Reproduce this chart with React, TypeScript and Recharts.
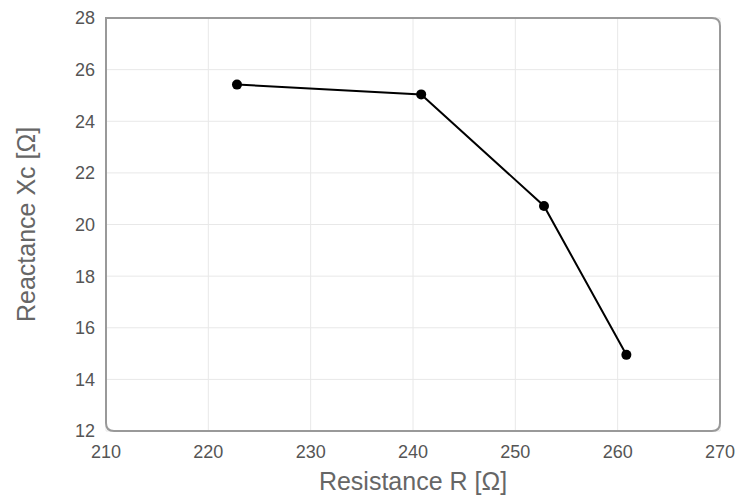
import {
  ScatterChart,
  Scatter,
  XAxis,
  YAxis,
  CartesianGrid,
  ReferenceArea,
} from "recharts";

const resistance = [222.8, 240.8, 252.8, 260.85];
const reactance = [25.42, 25.04, 20.72, 14.95];
const xTicks = [210, 220, 230, 240, 250, 260, 270];
const yTicks = [12, 14, 16, 18, 20, 22, 24, 26, 28];

const data = resistance.map((r, i) => ({ r, xc: reactance[i] }));

const FONT = "'Liberation Sans', Arial, sans-serif";

// frame: square top-left corner, the other three rounded
function Frame(props: any) {
  const { x, y, width, height } = props;
  const r = 8;
  const d = `M${x},${y} L${x + width - r},${y} Q${x + width},${y} ${x + width},${y + r} L${x + width},${y + height - r} Q${x + width},${y + height} ${x + width - r},${y + height} L${x + r},${y + height} Q${x},${y + height} ${x},${y + height - r} Z`;
  return <path d={d} fill="none" stroke="#999" strokeWidth={2} />;
}

export default function App() {
  return (
    <div style={{ position: "absolute", left: 0, top: 0, background: "#fff" }}>
      <ScatterChart width={736} height={498} margin={{ top: 18, right: 16, left: 0, bottom: 0 }}>
        <CartesianGrid stroke="#e8e8e8" strokeWidth={1} />
        <XAxis
          type="number"
          dataKey="r"
          domain={[210, 270]}
          ticks={xTicks}
          axisLine={false}
          tickLine={false}
          tickSize={0}
          tickMargin={14}
          height={67}
          tick={{ fill: "#555", fontSize: 18, fontFamily: FONT }}
          label={{
            value: "Resistance R [Ω]",
            position: "insideBottom",
            offset: 8,
            fill: "#666",
            fontSize: 25,
            fontFamily: FONT,
          }}
        />
        <YAxis
          type="number"
          dataKey="xc"
          domain={[12, 28]}
          ticks={yTicks}
          axisLine={false}
          tickLine={false}
          tickSize={0}
          tickMargin={11}
          width={106}
          tick={{ fill: "#555", fontSize: 18, fontFamily: FONT }}
          label={{
            value: "Reactance Xc [Ω]",
            angle: -90,
            position: "insideLeft",
            offset: 26,
            fill: "#666",
            fontSize: 25,
            fontFamily: FONT,
            style: { textAnchor: "middle" },
          }}
        />
        <ReferenceArea x1={210} x2={270} y1={12} y2={28} shape={<Frame />} />
        <Scatter
          data={data}
          fill="#000"
          line={{ stroke: "#000", strokeWidth: 2 }}
          shape={(p: any) => <circle cx={p.cx} cy={p.cy} r={5} fill="#000" />}
          isAnimationActive={false}
        />
      </ScatterChart>
    </div>
  );
}
